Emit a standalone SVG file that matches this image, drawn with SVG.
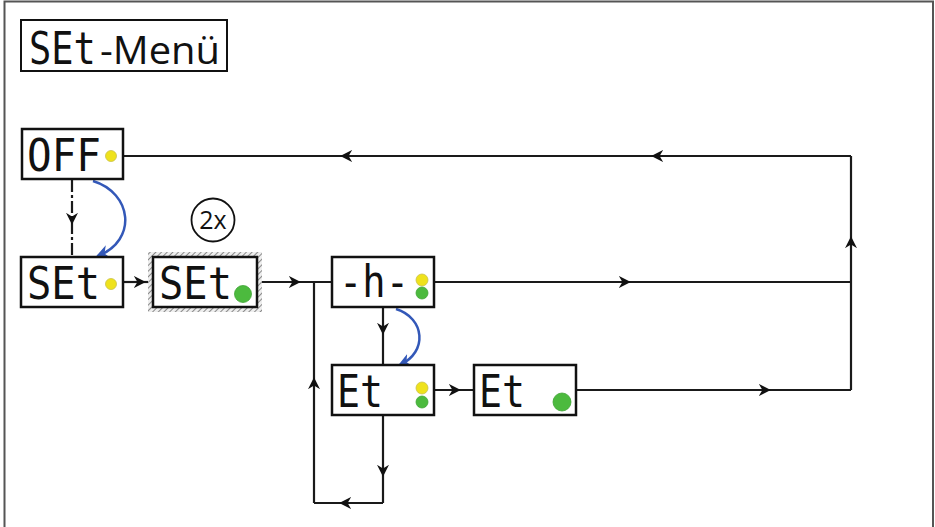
<svg xmlns="http://www.w3.org/2000/svg" width="935" height="527" viewBox="0 0 935 527">
<defs>
<style>
.box{fill:#fff;stroke:#111;stroke-width:2.5}
.seg{font-family:"DejaVu Sans Mono","Liberation Mono",monospace;font-size:45px;fill:#111}
.ln{fill:none;stroke:#1a1a1a;stroke-width:2.2}
.blue{fill:none;stroke:#3358b8;stroke-width:2.5}
.y{fill:#efe21c;stroke:#c9c24a;stroke-width:0.8}
.g{fill:#4cba3e;stroke:#3fa535;stroke-width:0.8}
</style>
<marker id="ah" viewBox="0 0 10 10" refX="6" refY="5" markerWidth="12" markerHeight="12" markerUnits="userSpaceOnUse" orient="auto">
<path d="M0,0 L10,5 L0,10 L3,5 z" fill="#111"/>
</marker>
<marker id="bh" viewBox="0 0 10 10" refX="8" refY="5" markerWidth="14" markerHeight="14" markerUnits="userSpaceOnUse" orient="auto">
<path d="M0,0 L10,5 L0,10 L3,5 z" fill="#3358b8"/>
</marker>
<pattern id="hatch" width="4" height="4" patternUnits="userSpaceOnUse" patternTransform="rotate(45)">
<rect width="4" height="4" fill="#eee"/>
<line x1="0" y1="0" x2="0" y2="4" stroke="#8a8a8a" stroke-width="2"/>
</pattern>
</defs>
<rect width="935" height="527" fill="#fff"/>
<path d="M4.5,527 L4.5,1.5 L933,1.5 L933,527" fill="none" stroke="#555" stroke-width="2"/>

<g id="title">
<rect x="21" y="20" width="206" height="51" fill="#fff" stroke="#111" stroke-width="2"/>
<text transform="translate(29,64) scale(1,1.2)" x="0" y="0" font-family="'DejaVu Sans Mono','Liberation Mono',monospace" font-size="37" fill="#111">SEt</text>
<text x="100" y="64" fill="#111" font-family="'Open Sans','Noto Sans',sans-serif" font-size="38" textLength="120" lengthAdjust="spacingAndGlyphs">-Menü</text>
</g>

<g id="connectors">
<path class="ln" d="M72,180 L72,220 L72,257" stroke-dasharray="12,3,3,3" marker-mid="url(#ah)"/>
<path class="ln" d="M123,282 L141,282 L153,282" marker-mid="url(#ah)"/>
<path class="ln" d="M257,282 L296,282 L332,282" marker-mid="url(#ah)"/>
<path class="ln" d="M434,282 L626,282 L851,282" marker-mid="url(#ah)"/>
<path class="ln" d="M851,390 L851,241 L851,156" marker-mid="url(#ah)"/>
<path class="ln" d="M851,156 L656,156 L345,156 L123,156" marker-mid="url(#ah)"/>
<path class="ln" d="M576,390 L766,390 L851,390" marker-mid="url(#ah)"/>
<path class="ln" d="M383,307 L383,330 L383,365" marker-mid="url(#ah)"/>
<path class="ln" d="M434,390 L456,390 L473,390" marker-mid="url(#ah)"/>
<path class="ln" d="M383,415 L383,472 L383,503" marker-mid="url(#ah)"/>
<path class="ln" d="M383,503 L344,503 L314,503" marker-mid="url(#ah)"/>
<path class="ln" d="M314,503 L314,382 L314,282" marker-mid="url(#ah)"/>
<path class="blue" d="M93,181 C132,193 138,240 98,256" marker-end="url(#bh)"/>
<path class="blue" d="M396,309 C425,318 428,352 400,365" marker-end="url(#bh)"/>
</g>

<g id="off">
<rect class="box" x="22" y="129" width="101" height="50"/>
<text x="27" y="171" class="seg" textLength="74" lengthAdjust="spacingAndGlyphs">OFF</text>
<circle class="y" cx="111" cy="156" r="5.5"/>
</g>

<g id="set1">
<rect class="box" x="21" y="257" width="102" height="50"/>
<text x="27" y="299" class="seg" textLength="73" lengthAdjust="spacingAndGlyphs">SEt</text>
<circle class="y" cx="111" cy="284" r="5.5"/>
</g>

<g id="twice">
<circle cx="213" cy="220" r="21.5" fill="#fff" stroke="#111" stroke-width="1.8"/>
<text x="213" y="229" text-anchor="middle" font-family="'Open Sans','Noto Sans',sans-serif" font-size="25" fill="#111">2x</text>
</g>

<g id="set2">
<rect x="148" y="252" width="114" height="60" fill="url(#hatch)"/>
<rect class="box" x="153" y="257" width="104" height="50"/>
<text x="159" y="299" class="seg" textLength="73" lengthAdjust="spacingAndGlyphs">SEt</text>
<circle class="g" cx="243" cy="294" r="8.5"/>
</g>

<g id="h">
<rect class="box" x="332" y="257" width="102" height="50"/>
<text x="339" y="297" class="seg" textLength="70" lengthAdjust="spacingAndGlyphs">-h-</text>
<circle class="y" cx="422" cy="280" r="6"/>
<circle class="g" cx="422" cy="293" r="6"/>
</g>

<g id="et1">
<rect class="box" x="332" y="365" width="102" height="50"/>
<text x="337" y="407" class="seg" textLength="46" lengthAdjust="spacingAndGlyphs">Et</text>
<circle class="y" cx="422" cy="388" r="6"/>
<circle class="g" cx="422" cy="402" r="6"/>
</g>

<g id="et2">
<rect class="box" x="474" y="365" width="102" height="50"/>
<text x="479" y="407" class="seg" textLength="46" lengthAdjust="spacingAndGlyphs">Et</text>
<circle class="g" cx="562" cy="402" r="9"/>
</g>
</svg>
